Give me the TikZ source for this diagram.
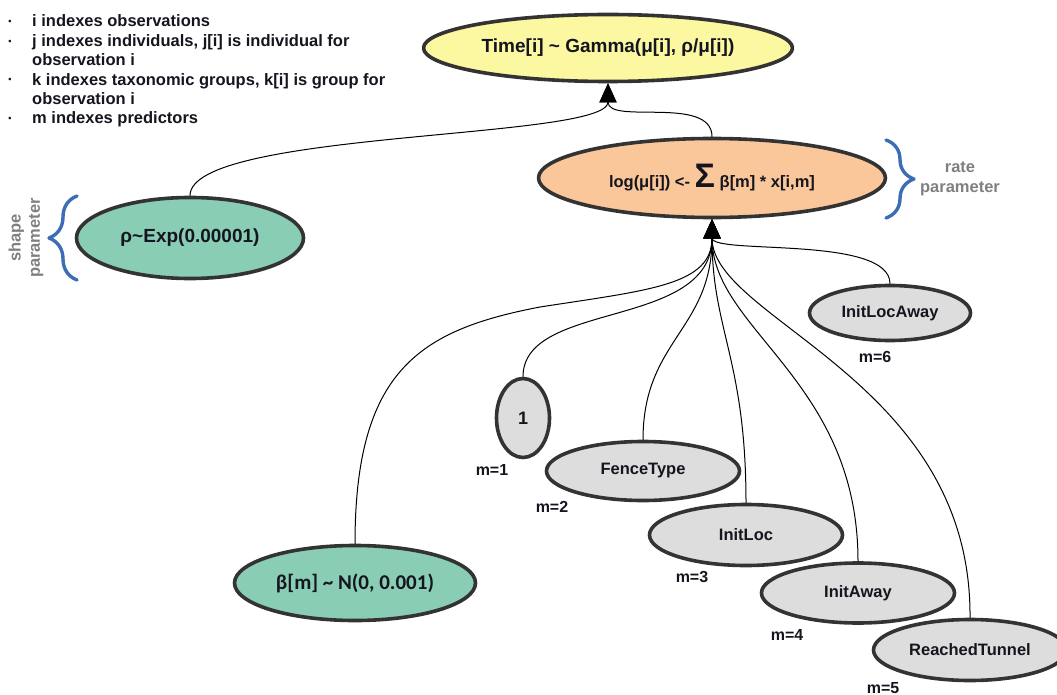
\documentclass[tikz,border=0pt]{standalone}
\usepackage{fontspec}
\setmainfont{Liberation Sans}
\newfontfamily\calfont{Carlito}
\usetikzlibrary{shapes.geometric,arrows.meta,decorations.pathreplacing}
\definecolor{yel}{HTML}{FCF8A2}
\definecolor{org}{HTML}{F9C79A}
\definecolor{grn}{HTML}{88CDB4}
\definecolor{lgr}{HTML}{DDDDDD}
\definecolor{edge}{HTML}{333333}
\definecolor{ink}{HTML}{15151F}
\definecolor{bl}{HTML}{3D6DB5}
\definecolor{gry}{HTML}{7F7F7F}
\begin{document}
\begin{tikzpicture}[x=1pt,y=-1pt,font=\bfseries\fontsize{16.5}{19.4}\selectfont,line join=round,line cap=round,>={Triangle[length=19pt,width=17pt]},
 var/.style={ellipse,draw=edge,line width=3.6pt,inner sep=0pt,text=ink},
 lnk/.style={->,line width=1pt},
 brc/.style={decorate,decoration={brace,amplitude=#1},draw=bl,line width=3.4pt},
 side/.style={text=gry,align=center,inner sep=0pt},
 txt/.style={anchor=base west,inner sep=0pt,text=ink},
 dot/.style={inner sep=0pt,text=ink,font=\bfseries\fontsize{9}{9}\selectfont},
 mlab/.style={inner sep=0pt,text=ink,font=\bfseries\fontsize{16}{16}\selectfont}]
\useasboundingbox (0,0) rectangle (1057,695);
\node[dot] (b1) at (10,22) {•};
\node[dot] (b2) at (10,42) {•};
\node[dot] (b3) at (10,80) {•};
\node[dot] (b4) at (10,119) {•};
\node[txt] (l1) at (32,27) {i indexes observations};
\node[txt] (l2) at (32,47) {j indexes individuals, j[i] is individual for};
\node[txt] (l3) at (32,66) {observation i};
\node[txt] (l4) at (32,85.5) {k indexes taxonomic groups, k[i] is group for};
\node[txt] (l5) at (32,104.5) {observation i};
\node[txt] (l6) at (32,124) {m indexes predictors};
\node[var,fill=yel,minimum width=369,minimum height=67,font=\bfseries\fontsize{19}{19}\selectfont] (time) at (608,48) {Time[i] \textasciitilde{} Gamma(μ[i], ρ/μ[i])};
\node[var,fill=org,minimum width=347,minimum height=79] (rate) at (712,178) {log(μ[i]) <- {\fontsize{34}{34}\selectfont Σ} β[m] * x[i,m]};
\node[var,fill=grn,minimum width=227,minimum height=81,font=\bfseries\fontsize{19}{19}\selectfont] (shp) at (190,238) {ρ\textasciitilde Exp(0.00001)};
\node[var,fill=grn,minimum width=241,minimum height=75,font=\calfont\bfseries\fontsize{21}{21}\selectfont] (beta) at (355,583) {β[m] \textasciitilde{} N(0, 0.001)};
\node[var,fill=lgr,minimum width=53,minimum height=79,font=\bfseries\fontsize{18}{18}\selectfont] (one) at (523,418) {1};
\node[var,fill=lgr,minimum width=193,minimum height=59] (fence) at (643,471) {FenceType};
\node[var,fill=lgr,minimum width=193,minimum height=61] (initloc) at (746,535) {InitLoc};
\node[var,fill=lgr,minimum width=193,minimum height=60] (initaway) at (858,593) {InitAway};
\node[var,fill=lgr,minimum width=193,minimum height=61] (tunnel) at (970,650) {ReachedTunnel};
\node[var,fill=lgr,minimum width=161,minimum height=55] (initlocaway) at (890,313) {InitLocAway};
\node[mlab] (m1) at (492,470) {m=1};
\node[mlab] (m2) at (552,507) {m=2};
\node[mlab] (m3) at (692,577) {m=3};
\node[mlab] (m4) at (787,635) {m=4};
\node[mlab] (m5) at (883,688) {m=5};
\node[mlab] (m6) at (875,357) {m=6};
\draw[brc=28] (886,140) -- (886,218);
\draw[brc=28] (77,280) -- (77,196);
\node[side] (ratelab) at (960,179) {rate\\parameter};
\node[side,rotate=90] (shplab) at (26,238) {shape\\parameter};
\draw[lnk] (shp.north) .. controls (190,130) and (608,140) .. (time.south);
\draw[lnk] (rate.north) .. controls (712,95) and (608,125) .. (time.south);
\draw[lnk] (beta.north) .. controls (355,370) and (420,330) .. (540,307) .. controls (650,290) and (712,285) .. (rate.south);
\draw[lnk] (one.north) .. controls (523,300) and (712,330) .. (rate.south);
\draw[lnk] (fence.north) .. controls (643,340) and (712,330) .. (rate.south);
\draw[lnk] (initloc.north) .. controls (746,360) and (712,330) .. (rate.south);
\draw[lnk] (initaway.north) .. controls (858,380) and (712,330) .. (rate.south);
\draw[lnk] (tunnel.north) .. controls (972,380) and (712,320) .. (rate.south);
\draw[lnk] (initlocaway.north) .. controls (890,235) and (712,255) .. (rate.south);
\end{tikzpicture}
\end{document}
